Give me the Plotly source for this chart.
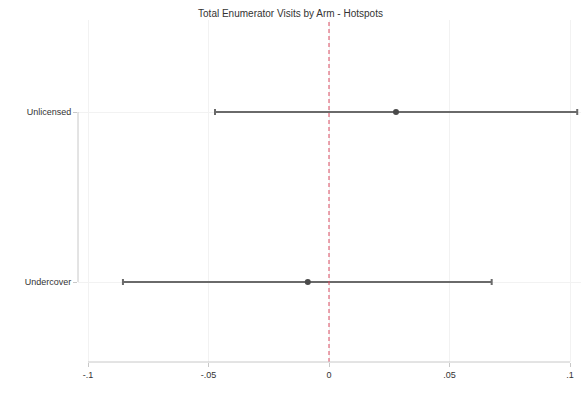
import plotly.graph_objects as go

categories = ["Unlicensed", "Undercover"]
cat_pos = [1, 0]
estimates = [0.0278, -0.0088]
ci_low = [-0.0473, -0.0855]
ci_high = [0.1030, 0.0675]
x_ticks = [-0.1, -0.05, 0, 0.05, 0.1]
x_ticklabels = ["-.1", "-.05", "0", ".05", ".1"]

W, H = 581, 395
left_px, right_px = 78, 581
top_px, bottom_px = 20, 362
scale = (570 - 88) / 0.2
x0 = -0.1 - (88 - left_px) / scale
x1 = 0.1 + (right_px - 570) / scale
ymin = -80 / 170
ymax = (bottom_px - top_px - 80) / 170

fig = go.Figure()
fig.add_trace(go.Scatter(
    x=estimates, y=cat_pos, mode="markers",
    marker=dict(color="#4a4a4a", size=6),
    error_x=dict(type="data", symmetric=False,
                 array=[h - e for h, e in zip(ci_high, estimates)],
                 arrayminus=[e - l for e, l in zip(estimates, ci_low)],
                 color="#6a6a6a", thickness=2, width=3),
    showlegend=False, hoverinfo="skip", cliponaxis=False))

# zero line
fig.add_shape(type="line", x0=0, x1=0, y0=0, y1=1, xref="x", yref="paper",
              line=dict(color="#d9485f", width=1, dash="4px,3px"))
# y axis line spanning categories
fig.add_shape(type="line", x0=0, x1=0, y0=0, y1=1, xref="paper", yref="y",
              line=dict(color="#c8c8c8", width=1))
# x axis line
fig.add_shape(type="line", x0=-0.1, x1=0.1, y0=0, y1=0, xref="x", yref="paper",
              line=dict(color="#c8c8c8", width=1))

fig.update_layout(
    width=W, height=H,
    margin=dict(l=left_px, r=W - right_px, t=top_px, b=H - bottom_px),
    paper_bgcolor="white", plot_bgcolor="white",
    font=dict(family="Liberation Sans, Arial, sans-serif", size=9, color="#333"),
    title=dict(text="Total Enumerator Visits by Arm - Hotspots", x=0.5, xanchor="center",
               y=1 - 13 / H, yanchor="middle", font=dict(size=10, color="#333")),
    xaxis=dict(range=[x0, x1], tickvals=x_ticks, ticktext=x_ticklabels,
               showgrid=True, gridcolor="#f2f2f2", gridwidth=1, zeroline=False,
               showline=False, ticks="outside", ticklen=4, tickcolor="#c8c8c8",
               tickfont=dict(size=9, color="#333")),
    yaxis=dict(range=[ymin, ymax], tickvals=cat_pos, ticktext=categories,
               showgrid=True, gridcolor="#f2f2f2", zeroline=False, showline=False,
               ticks="outside", ticklen=4, tickcolor="#c8c8c8",
               tickfont=dict(size=9, color="#333")),
)
fig.write_html("out.html")
